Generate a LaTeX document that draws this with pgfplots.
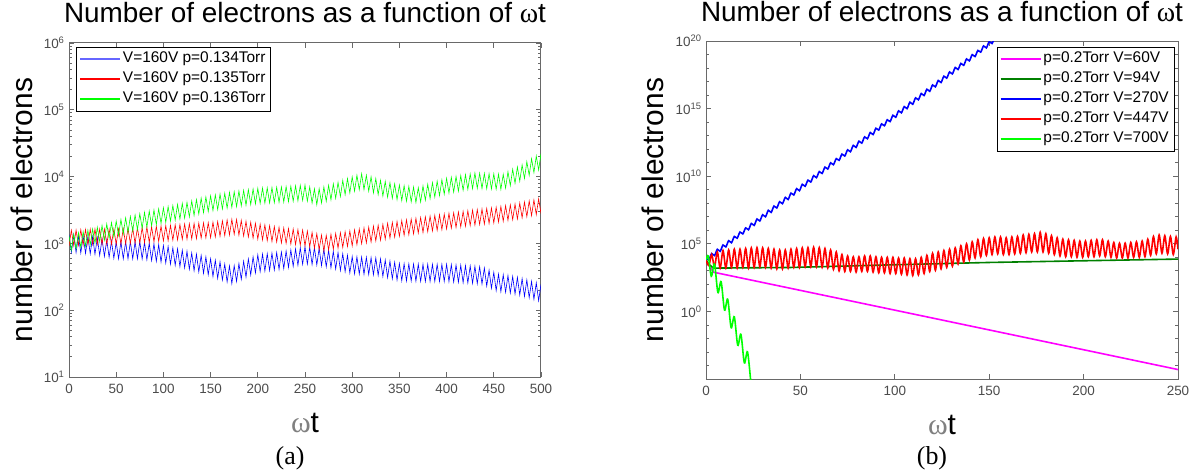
\documentclass[border=0pt]{standalone}
\usepackage{fontspec}
\setmainfont{Liberation Sans}
\newfontfamily\seriffont{Liberation Serif}
\usepackage{pgfplots}
\usepackage{pgfplotstable}
\pgfplotsset{compat=1.18}

\definecolor{axgray}{RGB}{105,105,105}
\definecolor{lblgray}{RGB}{75,75,75}
\definecolor{mgreen}{RGB}{0,255,0}
\definecolor{dgreen}{RGB}{0,128,0}
\definecolor{mmag}{RGB}{255,0,255}
\definecolor{mblue}{RGB}{0,0,255}
\definecolor{mred}{RGB}{255,0,0}

\newcommand{\om}{{\seriffont ω}}

% left panel: x, blue (0.134), red (0.135), green (0.136)
\pgfplotstableread{
x b r g
0 1350 920 1300
2.5 740 1570 790
5 1330 930 1370
7.5 730 1580 830
10 1310 940 1440
12.5 720 1600 870
15 1290 950 1500
17.5 710 1610 910
20 1270 960 1570
22.5 700 1630 950
25 1260 970 1640
27.5 690 1640 1000
30 1220 970 1740
32.5 660 1640 1060
35 1170 970 1850
37.5 640 1640 1120
40 1130 970 1950
42.5 620 1640 1190
45 1090 970 2050
47.5 600 1640 1250
50 1050 970 2160
52.5 590 1650 1320
55 1060 980 2280
57.5 590 1660 1390
60 1060 990 2410
62.5 590 1680 1460
65 1060 1000 2530
67.5 590 1690 1540
70 1060 1010 2660
72.5 590 1710 1610
75 1070 1020 2780
77.5 585 1730 1690
80 1040 1030 2910
82.5 570 1750 1760
85 1010 1040 3040
87.5 555 1770 1840
90 985 1060 3160
92.5 540 1800 1910
95 960 1070 3290
97.5 525 1820 1990
100 930 1090 3420
102.5 510 1850 2070
105 900 1100 3560
107.5 490 1870 2150
110 860 1120 3690
112.5 470 1900 2230
115 830 1130 3830
117.5 450 1920 2310
120 790 1150 3970
122.5 430 1950 2390
125 760 1160 4110
127.5 410 1970 2500
130 720 1170 4320
132.5 390 1990 2620
135 690 1180 4530
137.5 375 2010 2750
140 660 1200 4750
142.5 357 2030 2880
145 630 1210 4960
147.5 340 2040 3000
150 590 1220 5170
152.5 320 2080 3110
155 560 1250 5330
157.5 300 2130 3200
160 530 1280 5480
162.5 283 2180 3290
165 490 1310 5630
167.5 265 2240 3380
170 460 1340 5790
172.5 250 2290 3470
175 465 1370 5940
177.5 270 2280 3560
180 500 1330 6090
182.5 290 2210 3650
185 540 1290 6230
187.5 313 2140 3730
190 585 1250 6380
192.5 338 2070 3820
195 630 1200 6520
197.5 362 2000 3910
200 675 1160 6670
202.5 379 1940 3970
205 690 1130 6730
207.5 386 1890 4010
210 700 1100 6790
212.5 394 1840 4040
215 715 1070 6860
217.5 401 1790 4080
220 730 1050 6920
222.5 409 1740 4120
225 740 1020 6980
227.5 421 1700 4160
230 770 1000 7080
232.5 437 1670 4220
235 800 980 7180
237.5 454 1640 4280
240 830 960 7280
242.5 470 1610 4340
245 860 940 7380
247.5 487 1580 4400
250 890 920 7480
252.5 491 1530 4290
255 880 890 7010
257.5 484 1460 4020
260 865 850 6550
262.5 476 1400 3790
265 850 810 6610
267.5 464 1330 4030
270 820 770 7010
272.5 447 1320 4270
275 790 800 7410
277.5 430 1370 4500
280 760 820 7800
282.5 413 1410 4740
285 730 850 8200
287.5 395 1450 5030
290 700 870 8780
292.5 378 1500 5370
295 665 900 9350
297.5 361 1540 5710
300 635 920 9920
302.5 351 1590 6040
305 630 960 10490
307.5 348 1640 6380
310 624 990 11060
312.5 345 1700 6380
315 618 1020 10490
317.5 342 1750 6050
320 613 1050 9930
322.5 339 1810 5710
325 608 1090 9360
327.5 332 1870 5370
330 586 1120 8790
332.5 320 1930 5110
335 564 1160 8460
337.5 308 2000 4910
340 543 1200 8130
342.5 296 2060 4720
345 521 1240 7800
347.5 284 2130 4520
350 500 1280 7480
352.5 277 2190 4380
355 497 1320 7310
357.5 275 2250 4280
360 494 1350 7150
362.5 274 2310 4190
365 491 1390 6990
367.5 272 2380 4090
370 489 1430 6830
372.5 271 2440 4170
375 486 1460 7260
377.5 270 2500 4430
380 486 1500 7690
382.5 270 2560 4680
385 486 1540 8120
387.5 270 2630 4940
390 486 1570 8550
392.5 270 2690 5190
395 486 1610 8980
397.5 270 2750 5450
400 486 1650 9410
402.5 268 2820 5670
405 481 1690 9730
407.5 265 2880 5860
410 475 1730 10050
412.5 262 2950 6050
415 470 1770 10370
417.5 259 3020 6240
420 464 1810 10690
422.5 256 3090 6420
425 459 1850 11000
427.5 253 3150 6610
430 454 1880 11320
432.5 250 3210 6680
435 448 1920 11240
437.5 247 3270 6630
440 428 1950 11150
442.5 230 3330 6580
445 398 1990 11070
447.5 213 3390 6530
450 369 2030 10990
452.5 197 3470 6480
455 347 2090 10900
457.5 190 3570 6430
460 339 2150 10820
462.5 186 3670 6710
465 330 2210 11850
467.5 181 3770 7330
470 320 2270 12880
472.5 175 3880 7940
475 310 2330 13920
477.5 169 4010 8550
480 297 2420 14950
482.5 161 4160 9380
485 284 2510 16740
487.5 154 4320 10440
490 270 2610 18530
492.5 146 4480 11500
495 257 2700 20310
497.5 139 4640 12560
500 243 2800 22100
}\lefttab

% right panel, V=447V
\pgfplotstableread{
x y
0 6300
1.5 2500
3 16000
4.5 2000
6 25000
7.5 1600
9 32000
10.5 1600
12 35000
13.5 1800
15 40000
16.5 1600
18 40000
19.5 1800
21 45000
22.5 1600
24 50000
25.5 1800
27 52000
28.5 2000
30 50000
31.5 1800
33 45000
34.5 1600
36 40000
37.5 1400
39 35000
40.5 1400
42 35000
43.5 1600
45 40000
46.5 1800
48 45000
49.5 1800
51 50000
52.5 2000
54 52000
55.5 2000
57 56000
58.5 2000
60 52000
61.5 1800
63 45000
64.5 1600
66 35000
67.5 1260
69 25000
70.5 1000
72 16000
73.5 900
75 12600
76.5 900
78 11000
79.5 800
81 11000
82.5 900
84 12600
85.5 900
87 12600
88.5 800
90 11000
91.5 710
93 10000
94.5 710
96 10000
97.5 630
99 10000
100.5 630
102 8900
103.5 560
105 8900
106.5 500
108 7900
109.5 450
111 7900
112.5 500
114 10000
115.5 630
117 14000
118.5 900
120 20000
121.5 1100
123 25000
124.5 1400
126 32000
127.5 1800
129 40000
130.5 2200
132 50000
133.5 3200
135 71000
136.5 4500
138 100000
139.5 6300
141 141000
142.5 8900
144 200000
145.5 11000
147 250000
148.5 14000
150 280000
151.5 16000
153 320000
154.5 18000
156 320000
157.5 16000
159 280000
160.5 16000
162 320000
163.5 18000
165 350000
166.5 20000
168 450000
169.5 22000
171 500000
172.5 25000
174 560000
175.5 25000
177 710000
178.5 25000
180 560000
181.5 20000
183 400000
184.5 16000
186 280000
187.5 12600
189 220000
190.5 11000
192 200000
193.5 11000
195 180000
196.5 10000
198 160000
199.5 10000
201 160000
202.5 11000
204 180000
205.5 11000
207 200000
208.5 12600
210 200000
211.5 11000
213 160000
214.5 10000
216 126000
217.5 8900
219 112000
220.5 8900
222 112000
223.5 8900
225 126000
226.5 10000
228 141000
229.5 10000
231 160000
232.5 11000
234 220000
235.5 14000
237 350000
238.5 18000
240 450000
241.5 20000
243 400000
244.5 18000
246 350000
247.5 16000
249 320000
250 40000
}\redtab

% right panel, V=270V
\pgfplotstableread{
x y
0 8.9e3
1.5 6.5e3
3 1.9e4
4.5 1.35e4
6 3.9e4
7.5 2.8e4
9 8.1e4
10.5 5.9e4
12 1.7e5
13.5 1.2e5
15 3.5e5
16.5 2.6e5
18 7.4e5
19.5 5.4e5
21 1.5e6
22.5 1.1e6
24 3.2e6
25.5 2.3e6
27 6.8e6
28.5 4.9e6
30 1.4e7
31.5 1.0e7
33 3.0e7
34.5 2.1e7
36 6.2e7
37.5 4.5e7
39 1.3e8
40.5 9.3e7
42 2.7e8
43.5 1.9e8
45 5.6e8
46.5 4.1e8
48 1.2e9
49.5 8.5e8
51 2.5e9
52.5 1.8e9
54 5.1e9
55.5 3.7e9
57 1.1e10
58.5 7.8e9
60 2.2e10
61.5 1.6e10
63 4.7e10
64.5 3.4e10
66 9.8e10
67.5 7.1e10
69 2.0e11
70.5 1.5e11
72 4.3e11
73.5 3.1e11
75 8.9e11
76.5 6.5e11
78 1.9e12
79.5 1.35e12
81 3.9e12
82.5 2.8e12
84 8.1e12
85.5 5.9e12
87 1.7e13
88.5 1.2e13
90 3.5e13
91.5 2.6e13
93 7.4e13
94.5 5.4e13
96 1.5e14
97.5 1.1e14
99 3.2e14
100.5 2.3e14
102 6.8e14
103.5 4.9e14
105 1.4e15
106.5 1.0e15
108 3.0e15
109.5 2.1e15
111 6.2e15
112.5 4.5e15
114 1.3e16
115.5 9.3e15
117 2.7e16
118.5 1.9e16
120 5.6e16
121.5 4.1e16
123 1.2e17
124.5 8.5e16
126 2.5e17
127.5 1.8e17
129 5.1e17
130.5 3.7e17
132 1.1e18
133.5 7.8e17
135 2.2e18
136.5 1.6e18
138 4.7e18
139.5 3.4e18
141 9.8e18
142.5 7.1e18
144 2.0e19
145.5 1.5e19
147 4.3e19
148.5 3.1e19
150 8.9e19
151.5 6.5e19
153 1.9e20
154.5 1.35e20
}\bluetab

% right panel, V=700V
\pgfplotstableread{
x y
0 6300
1.2 12600
2.8 398
4.5 3160
6.3 25.1
8 158
9.8 1.26
11.5 7.94
13.3 0.063
15 0.398
16.8 0.00316
18.5 0.02
20.3 1.58e-4
22 1e-3
23.8 5e-6
24.5 1e-6
}\greentab

% right panel, V=94V
\pgfplotstableread{
x y
0 6300
1.5 3200
3 2000
4.5 1600
45 1780
100 2820
150 4170
250 7410
}\dgtab

% right panel, V=60V
\pgfplotstableread{
x y
0 6300
2 2000
4 794
125 0.23
250 5.0e-5
}\magtab

\pgfplotsset{
  mystyle/.style={
    scale only axis, width=472bp,
    axis line style={axgray, line width=1bp},
    every tick/.style={axgray, line width=0.8bp},
    major tick length=5bp, minor tick length=3bp,
    tick label style={font=\fontsize{13.5}{15}\selectfont, text=lblgray},
    /pgf/number format/assume math mode=true,
    xticklabel style={yshift=-4bp},
    yticklabel style={xshift=-1bp},
    title style={at={(axis description cs:0.5,1)}, anchor=base, yshift=15bp,
      font=\fontsize{28}{32}\selectfont},
    xlabel style={at={(axis description cs:0.5,0)}, anchor=base, yshift=-55bp,
      font=\fontsize{30}{34}\selectfont},
    legend style={fill=white,
      font=\fontsize{15.5}{18}\selectfont,
      nodes={inner ysep=2.5bp, inner xsep=2bp, text height=11bp, text depth=4bp},
      row sep=0bp},
    legend cell align=left,
    title={Number of electrons as a function of \om t},
    xlabel={\color{gray}\om\color{black}t},
  }
}

\begin{document}
\begin{tikzpicture}
\path[use as bounding box] (0,0) rectangle (1192bp,-476bp);

\begin{axis}[ymode=log, mystyle, height=334bp,
  at={(69bp,-377bp)}, anchor=south west,
  xmin=0, xmax=500, xtick={0,50,...,500},
  ymin=10, ymax=1e6,
  ytick={10,100,1000,10000,100000,1000000},
  yticklabels={10\textsuperscript{1},10\textsuperscript{2},10\textsuperscript{3},10\textsuperscript{4},10\textsuperscript{5},10\textsuperscript{6}},
  ylabel={number of electrons},
  ylabel style={at={(axis description cs:-0.1,0.5)}, anchor=center,
    font=\fontsize{30}{34}\selectfont},
  legend style={at={(axis description cs:0,1)}, anchor=north west,
    xshift=7bp, yshift=-4bp},
]
\addplot[color=mblue, line width=0.6bp,
  legend image code/.code={\draw[draw=mblue!60, line width=1.8bp] (0bp,0bp) -- (40bp,0bp);}]
  table[x=x, y=b] {\lefttab};
\addlegendentry{V=160V p=0.134Torr}
\addplot[color=mred, line width=0.6bp,
  legend image code/.code={\draw[draw=mred, line width=1.4bp] (0bp,0bp) -- (40bp,0bp);}]
  table[x=x, y=r] {\lefttab};
\addlegendentry{V=160V p=0.135Torr}
\addplot[color=mgreen, line width=0.6bp,
  legend image code/.code={\draw[draw=mgreen, line width=1.6bp] (0bp,0bp) -- (40bp,0bp);}]
  table[x=x, y=g] {\lefttab};
\addlegendentry{V=160V p=0.136Torr}
\end{axis}

\begin{axis}[ymode=log, mystyle, height=338bp,
  at={(706bp,-379bp)}, anchor=south west,
  title style={yshift=-1bp},
  xmin=0, xmax=250, xtick={0,50,...,250},
  ymin=1e-5, ymax=1e20,
  ytick={1,1e5,1e10,1e15,1e20},
  yticklabels={10\textsuperscript{0},10\textsuperscript{5},10\textsuperscript{10},10\textsuperscript{15},10\textsuperscript{20}},
  minor ytick={1e-4,1e-3,1e-2,1e-1,10,100,1000,1e4,1e6,1e7,1e8,1e9,1e11,1e12,1e13,1e14,1e16,1e17,1e18,1e19},
  ylabel={number of electrons},
  ylabel style={at={(axis description cs:-0.112,0.5)}, anchor=center,
    font=\fontsize{30}{34}\selectfont},
  legend style={at={(axis description cs:1,1)}, anchor=north east,
    xshift=-4bp, yshift=-6bp},
]
\addplot[color=mmag, line width=1.6bp,
  legend image code/.code={\draw[draw=mmag, line width=1.6bp] (0bp,0bp) -- (40bp,0bp);}]
  table[x=x, y=y] {\magtab};
\addlegendentry{p=0.2Torr V=60V}
\addplot[color=dgreen, line width=1.6bp,
  legend image code/.code={\draw[draw=dgreen, line width=1.6bp] (0bp,0bp) -- (40bp,0bp);}]
  table[x=x, y=y] {\dgtab};
\addlegendentry{p=0.2Torr V=94V}
\addplot[color=mblue, line width=1.6bp, smooth, tension=0.5,
  legend image code/.code={\draw[draw=mblue, line width=1.6bp] (0bp,0bp) -- (40bp,0bp);}]
  table[x=x, y=y] {\bluetab};
\addlegendentry{p=0.2Torr V=270V}
\addplot[color=mred, line width=1.6bp, smooth, tension=0.5,
  legend image code/.code={\draw[draw=mred, line width=1.6bp] (0bp,0bp) -- (40bp,0bp);}]
  table[x=x, y=y] {\redtab};
\addlegendentry{p=0.2Torr V=447V}
\addplot[color=mgreen, line width=1.6bp, smooth, tension=0.5,
  legend image code/.code={\draw[draw=mgreen, line width=1.6bp] (0bp,0bp) -- (40bp,0bp);}]
  table[x=x, y=y] {\greentab};
\addlegendentry{p=0.2Torr V=700V}
\end{axis}

\node[font=\seriffont\fontsize{26}{30}\selectfont] at (290bp,-458bp) {(a)};
\node[font=\seriffont\fontsize{26}{30}\selectfont] at (932bp,-458bp) {(b)};
\end{tikzpicture}
\end{document}
